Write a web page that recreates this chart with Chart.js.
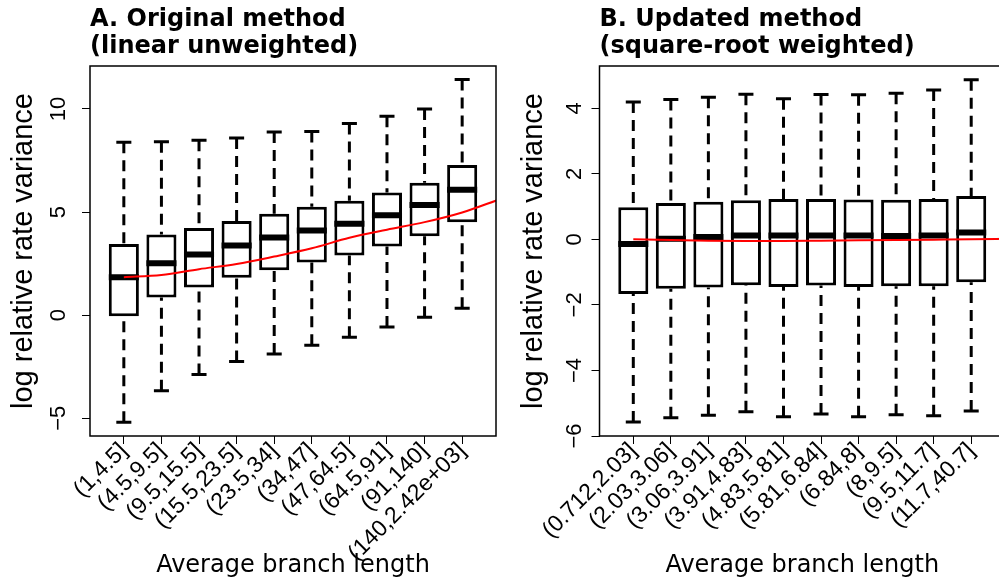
<!DOCTYPE html>
<html>
<head>
<meta charset="utf-8">
<script src="https://cdn.jsdelivr.net/npm/chart.js@4.4.1/dist/chart.umd.min.js"></script>
<style>
html,body{margin:0;padding:0;width:999px;height:584px;overflow:hidden;background:#fff;}
body{position:relative;}
canvas{position:absolute;top:0;}
</style>
</head>
<body>
<canvas id="chartA" width="500" height="584" style="left:0px"></canvas>
<canvas id="chartB" width="510" height="584" style="left:500px"></canvas>
<script>
// ---------------- data ----------------
const categoriesA = ['(1,4.5]','(4.5,9.5]','(9.5,15.5]','(15.5,23.5]','(23.5,34]','(34,47]','(47,64.5]','(64.5,91]','(91,140]','(140,2.42e+03]'];
const whiskerLowA = [-5.19, -3.66, -2.88, -2.25, -1.89, -1.46, -1.07, -0.58, -0.10, 0.34];
const quartile1A  = [-0.05, 0.86, 1.34, 1.81, 2.18, 2.55, 2.89, 3.33, 3.82, 4.50];
const medianA     = [1.84, 2.51, 2.94, 3.38, 3.77, 4.11, 4.43, 4.84, 5.34, 6.08];
const quartile3A  = [3.45, 3.91, 4.22, 4.56, 4.92, 5.26, 5.55, 5.95, 6.42, 7.28];
const whiskerHighA= [8.38, 8.41, 8.48, 8.59, 8.88, 8.91, 9.29, 9.64, 10.00, 11.42];
const trendXA     = [1, 2, 3, 4, 5, 6, 7, 8, 9, 10, 11];
const trendYA     = [1.84, 1.95, 2.23, 2.48, 2.84, 3.24, 3.75, 4.14, 4.51, 4.98, 5.62];
const yTicksA     = [-5, 0, 5, 10];
const yLimitsA    = [-5.86, 12.08];
const titleA      = ['A. Original method', '(linear unweighted)'];

const categoriesB = ['(0.712,2.03]','(2.03,3.06]','(3.06,3.91]','(3.91,4.83]','(4.83,5.81]','(5.81,6.84]','(6.84,8]','(8,9.5]','(9.5,11.7]','(11.7,40.7]'];
const whiskerLowB = [-5.57, -5.44, -5.37, -5.26, -5.41, -5.33, -5.41, -5.35, -5.38, -5.24];
const quartile1B  = [-1.67, -1.51, -1.47, -1.40, -1.45, -1.41, -1.45, -1.43, -1.43, -1.31];
const medianB     = [-0.14, 0.02, 0.07, 0.12, 0.12, 0.12, 0.12, 0.10, 0.12, 0.21];
const quartile3B  = [0.98, 1.11, 1.15, 1.19, 1.23, 1.23, 1.22, 1.21, 1.23, 1.32];
const whiskerHighB= [4.19, 4.27, 4.34, 4.43, 4.29, 4.42, 4.41, 4.46, 4.56, 4.87];
const trendXB     = [1, 2, 3, 4, 5, 6, 7, 8, 9, 10, 11];
const trendYB     = [0.00, -0.02, -0.04, -0.05, -0.05, -0.04, -0.03, -0.02, -0.01, 0.00, 0.02];
const yTicksB     = [-6, -4, -2, 0, 2, 4];
const yLimitsB    = [-6.0, 5.29];
const titleB      = ['B. Updated method', '(square-root weighted)'];

const yAxisTitle = 'log relative rate variance';
const xAxisTitle = 'Average branch length';

// ---------------- helpers ----------------
function fmt(v){ return v < 0 ? '\u2212' + Math.abs(v) : String(v); }

function boxDatasets(lo, q1, med, q3, hi, tx, ty){
  const xs = q1.map((_, i) => i + 1);
  const whisk = [], staple = [], medLine = [];
  xs.forEach((x, i) => {
    whisk.push({x, y: hi[i]}, {x, y: q3[i]}, {x, y: null}, {x, y: lo[i]}, {x, y: q1[i]}, {x, y: null});
    staple.push({x: x - 0.2, y: hi[i]}, {x: x + 0.2, y: hi[i]}, {x, y: null},
                {x: x - 0.2, y: lo[i]}, {x: x + 0.2, y: lo[i]}, {x, y: null});
    medLine.push({x: x - 0.4, y: med[i]}, {x: x + 0.4, y: med[i]}, {x, y: null});
  });
  const common = {pointRadius: 0, pointHoverRadius: 0, pointHitRadius: 0, tension: 0, spanGaps: false, fill: false, borderCapStyle: 'butt'};
  return [
    {type: 'bar', data: xs.map((x, i) => ({x, y: [q1[i], q3[i]]})), backgroundColor: '#ffffff',
     borderColor: '#000000', borderWidth: 3, borderSkipped: false, barPercentage: 0.8, categoryPercentage: 1, order: 5},
    Object.assign({type: 'line', data: whisk, borderColor: '#000000', borderWidth: 3, borderDash: [11, 7], order: 4}, common),
    Object.assign({type: 'line', data: staple, borderColor: '#000000', borderWidth: 3, order: 3}, common),
    Object.assign({type: 'line', data: medLine, borderColor: '#000000', borderWidth: 6, order: 2}, common),
    Object.assign({}, common, {type: 'line', data: tx.map((x, i) => ({x, y: ty[i]})), borderColor: '#ff0000',
     borderWidth: 2, cubicInterpolationMode: 'monotone', order: 1})
  ];
}

const framePlugin = {
  id: 'frame',
  afterDatasetsDraw(chart){
    const {ctx, chartArea: {left, top, right, bottom}} = chart;
    ctx.save();
    ctx.strokeStyle = '#000';
    ctx.lineWidth = 1.5;
    ctx.strokeRect(left, top, right - left, bottom - top);
    ctx.restore();
  }
};

function makeChart(id, cats, lo, q1, med, q3, hi, tx, ty, yTicks, yLim, title, cfg){
  return new Chart(document.getElementById(id), {
    type: 'line',
    data: {datasets: boxDatasets(lo, q1, med, q3, hi, tx, ty)},
    plugins: [framePlugin],
    options: {
      responsive: false,
      animation: false,
      devicePixelRatio: 1,
      events: [],
      layout: {padding: {left: 0, top: 0, right: cfg.padRight, bottom: 0}},
      plugins: {
        legend: {display: false},
        tooltip: {enabled: false},
        title: {display: true, text: title, align: 'start', fullSize: false, color: '#000',
                font: {family: "'DejaVu Sans'", size: 24, weight: 'bold', lineHeight: '27px'},
                padding: {top: 6.1, bottom: 5.9}}
      },
      scales: {
        x: {
          type: 'linear', min: 0.1, max: 10.9, offset: false,
          afterBuildTicks(s){ s.ticks = cats.map((_, i) => ({value: i + 1})); },
          afterFit(s){ s.height = 148; s.paddingLeft = 0; s.paddingRight = 0; },
          ticks: {autoSkip: false, minRotation: 45, maxRotation: 45, padding: cfg.xTickPad, color: '#000',
                  font: {family: "'Liberation Sans'", size: 23},
                  callback: (v) => cats[Math.round(v) - 1]},
          grid: {drawOnChartArea: false, drawTicks: true, tickLength: 8, color: '#000', lineWidth: 1, offset: false},
          border: {display: false},
          title: {display: true, text: xAxisTitle, color: '#000', font: {family: "'DejaVu Sans'", size: 24},
                  padding: {top: 0, bottom: 3.7}}
        },
        y: {
          type: 'linear', position: 'left', min: yLim[0], max: yLim[1],
          afterBuildTicks(s){ s.ticks = yTicks.map(v => ({value: v})); },
          afterFit(s){ s.width = cfg.yWidth; s.paddingTop = 0; s.paddingBottom = 0; },
          ticks: {autoSkip: false, minRotation: 90, maxRotation: 90, crossAlign: 'center', padding: cfg.yTickPad,
                  color: '#000', font: {family: "'Liberation Sans'", size: 22}, callback: (v) => fmt(v)},
          grid: {drawOnChartArea: false, drawTicks: true, tickLength: 8, color: '#000', lineWidth: 1},
          border: {display: false},
          title: {display: true, text: yAxisTitle, color: '#000', font: {family: "'Liberation Sans'", size: 29},
                  padding: {top: cfg.yTitlePad, bottom: 0}}
        }
      }
    }
  });
}

makeChart('chartA', categoriesA, whiskerLowA, quartile1A, medianA, quartile3A, whiskerHighA, trendXA, trendYA,
          yTicksA, yLimitsA, titleA, {padRight: 4, yWidth: 90, yTickPad: 10.8, yTitlePad: 6.6, xTickPad: -6.4});
makeChart('chartB', categoriesB, whiskerLowB, quartile1B, medianB, quartile3B, whiskerHighB, trendXB, trendYB,
          yTicksB, yLimitsB, titleB, {padRight: 5, yWidth: 99.5, yTickPad: 4.3, yTitlePad: 16.6, xTickPad: -6.4});
</script>
</body>
</html>
